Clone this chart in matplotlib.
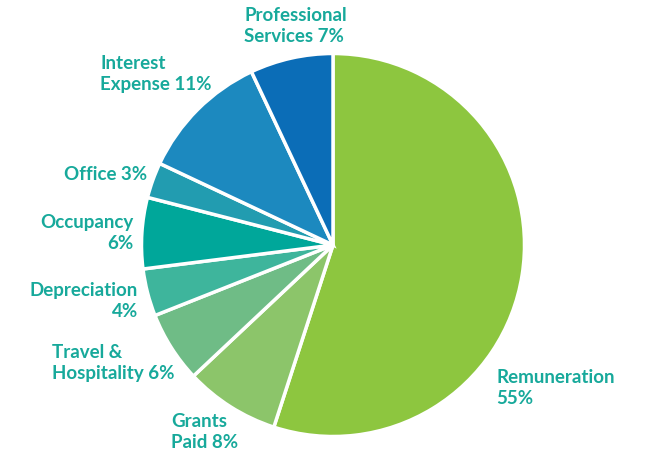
import matplotlib.pyplot as plt

# Expense breakdown, clockwise from the top
categories = ["Remuneration", "Grants Paid", "Travel & Hospitality", "Depreciation",
              "Occupancy", "Office", "Interest Expense", "Professional Services"]
shares = [55, 8, 6, 4, 6, 3, 11, 7]
colors = ["#8DC63F", "#8CC56A", "#6FBC86", "#3EB59C",
          "#00A79A", "#229CB0", "#1C89BF", "#0B6DB7"]

label_texts = ["Remuneration\n55%", "Grants\nPaid 8%", "Travel &\nHospitality 6%",
               "Depreciation\n4%", "Occupancy\n6%", "Office 3%",
               "Interest\nExpense 11%", "Professional\nServices 7%"]

plt.rcParams['font.family'] = ['Lato', 'DejaVu Sans']

fig = plt.figure(figsize=(6.45, 4.52), dpi=100)
ax = fig.add_axes([0, 0, 1, 1])

ax.pie(shares, colors=colors, startangle=90, counterclock=False,
       center=(333, 452 - 246), radius=191.5,
       wedgeprops=dict(edgecolor="white", linewidth=2.5))
ax.set_xlim(0, 645)
ax.set_ylim(0, 452)
ax.set_aspect("equal")
ax.axis("off")

# label anchor (x, y of text centre in pixels from top) and alignment
label_pos = [(496, 388, "left"), (171, 432, "left"), (52, 363, "left"),
             (138, 301, "right"), (133, 233, "right"), (147, 174, "right"),
             (100, 74, "left"), (244, 26, "left")]

txt_color = "#17A99B"
for t, (x, y, ha) in zip(label_texts, label_pos):
    ax.text(x, 452 - y, t, ha=ha, va="center", multialignment=ha,
            fontsize=13.5, fontweight="bold", color=txt_color, linespacing=1.22)

fig.savefig("out.png", dpi=100)
